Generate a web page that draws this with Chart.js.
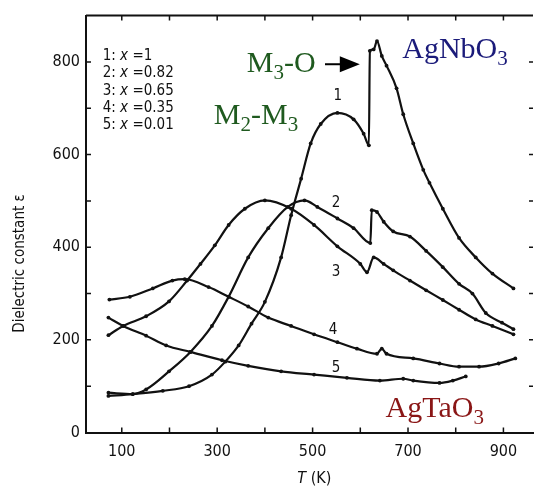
<!DOCTYPE html>
<html>
<head>
<meta charset="utf-8">
<script src="https://cdn.jsdelivr.net/npm/chart.js@4.4.0/dist/chart.umd.min.js"></script>
<style>
  html, body { margin: 0; padding: 0; background: #fff; overflow: hidden; }
  #wrap { width: 537px; height: 493px; position: relative; }
</style>
</head>
<body>
<div id="wrap"><canvas id="chartCanvas"></canvas></div>
<script>
// tick labels
const xTickValues = [100, 300, 500, 700, 900];
const yTickValues = [0, 200, 400, 600, 800];

// curve 1: x = 1 (AgNbO3)
const temp1 = [72, 123, 186, 241, 289, 317, 345, 372, 400, 434, 455, 476, 496, 517, 552, 586, 607, 618, 620, 628, 635, 645, 655, 676, 690, 711, 732, 745, 773, 807, 842, 877, 921];
const eps1 = [79, 83, 90, 100, 125, 153, 188, 235, 282, 378, 469, 548, 624, 666, 690, 676, 645, 620, 824, 827, 845, 813, 792, 743, 687, 624, 567, 539, 483, 420, 378, 343, 311];

// curve 2: x = 0.82
const temp2 = [72, 123, 151, 199, 244, 289, 324, 365, 407, 448, 483, 510, 552, 586, 621, 624, 635, 649, 669, 704, 738, 773, 807, 835, 863, 897, 921];
const eps2 = [86, 83, 93, 132, 174, 230, 293, 378, 441, 487, 501, 487, 462, 441, 409, 480, 476, 455, 434, 423, 392, 357, 321, 300, 258, 237, 223];

// curve 3: x = 0.65
const temp3 = [72, 103, 151, 199, 237, 265, 295, 324, 358, 400, 455, 503, 552, 600, 614, 628, 649, 669, 704, 738, 773, 807, 842, 877, 921];
const eps3 = [210, 230, 251, 283, 328, 364, 404, 448, 483, 501, 483, 448, 402, 364, 346, 378, 364, 350, 328, 307, 286, 265, 244, 230, 212];

// curve 4: x = 0.35
const temp4 = [74, 117, 165, 206, 232, 282, 324, 365, 407, 455, 503, 552, 593, 635, 645, 655, 711, 766, 807, 849, 890, 925];
const eps4 = [287, 293, 311, 328, 331, 314, 293, 272, 248, 230, 212, 195, 181, 170, 181, 170, 160, 149, 142, 142, 149, 160];

// curve 5: x = 0.01 (AgTaO3 side)
const temp5 = [72, 103, 151, 193, 244, 310, 365, 434, 503, 572, 641, 690, 711, 766, 794, 821];
const eps5 = [248, 230, 209, 188, 174, 156, 144, 132, 125, 118, 112, 116, 112, 107, 112, 121];

// curve numbers and where they sit (T, eps)
const curveNames = ["1", "2", "3", "4", "5"];
const nameT = [553, 549, 549, 543, 549];
const nameEps = [726, 496, 347, 222, 140];

// composition legend
const compValues = ["1", "0.82", "0.65", "0.35", "0.01"];

const curves = [
  [temp1, eps1], [temp2, eps2], [temp3, eps3], [temp4, eps4], [temp5, eps5]
];

const smallFont = "15px 'DejaVu Sans Condensed', 'DejaVu Sans', sans-serif";
const smallItalic = "italic 15px 'DejaVu Sans Condensed', 'DejaVu Sans', sans-serif";
const serifBig = "30px 'Liberation Serif', 'Times New Roman', serif";
const serifSub = "21px 'Liberation Serif', 'Times New Roman', serif";

function drawParts(ctx, parts, px, py) {
  let cx = px;
  parts.forEach((p) => {
    ctx.font = p.font;
    ctx.fillText(p.text, cx, py + (p.dy || 0));
    cx += ctx.measureText(p.text).width;
  });
}

function chemParts(main, sub, rest) {
  const parts = [{ text: main, font: serifBig }, { text: sub, font: serifSub, dy: 7 }];
  if (rest) parts.push({ text: rest, font: serifBig });
  return parts;
}

const decor = {
  id: "decor",
  afterDraw(chart) {
    const { ctx, chartArea, scales } = chart;
    const xs = scales.x, ys = scales.y;
    ctx.save();
    ctx.strokeStyle = "#111";
    ctx.fillStyle = "#111";

    // top frame line
    ctx.lineWidth = 2;
    ctx.beginPath();
    ctx.moveTo(chartArea.left, chartArea.top);
    ctx.lineTo(chartArea.right, chartArea.top);
    ctx.stroke();

    // inward ticks every 100
    ctx.lineWidth = 1.5;
    for (let v = 100; v <= 900; v += 100) {
      const px = xs.getPixelForValue(v);
      ctx.beginPath();
      ctx.moveTo(px, chartArea.bottom);
      ctx.lineTo(px, chartArea.bottom - 5);
      ctx.moveTo(px, chartArea.top);
      ctx.lineTo(px, chartArea.top + 5);
      ctx.stroke();
    }
    for (let v = 100; v <= 800; v += 100) {
      const py = ys.getPixelForValue(v);
      ctx.beginPath();
      ctx.moveTo(chartArea.left, py);
      ctx.lineTo(chartArea.left + 5, py);
      ctx.moveTo(chartArea.right - 4, py);
      ctx.lineTo(chartArea.right, py);
      ctx.stroke();
    }

    // curve numbers
    ctx.font = smallFont;
    ctx.textAlign = "center";
    ctx.textBaseline = "middle";
    curveNames.forEach((n, i) => {
      ctx.fillText(n, xs.getPixelForValue(nameT[i]), ys.getPixelForValue(nameEps[i]));
    });

    // composition legend
    ctx.textAlign = "left";
    const legLeft = xs.getPixelForValue(60);
    compValues.forEach((c, i) => {
      const py = ys.getPixelForValue(813 - i * 37.5);
      drawParts(ctx, [
        { text: (i + 1) + ": ", font: smallFont },
        { text: "x", font: smallItalic },
        { text: " =" + c, font: smallFont }
      ], legLeft, py);
    });

    // axis titles
    ctx.font = "15px 'DejaVu Sans Condensed', 'DejaVu Sans', sans-serif";
    ctx.save();
    ctx.translate(20, ys.getPixelForValue(365));
    ctx.rotate(-Math.PI / 2);
    ctx.textAlign = "center";
    ctx.fillText("Dielectric constant ε", 0, 0);
    ctx.restore();
    drawParts(ctx, [
      { text: "T", font: "italic 16px 'DejaVu Sans Condensed', 'DejaVu Sans', sans-serif" },
      { text: " (K)", font: "16px 'DejaVu Sans Condensed', 'DejaVu Sans', sans-serif" }
    ], xs.getPixelForValue(468), 479);

    // phase / compound labels
    ctx.textBaseline = "alphabetic";
    ctx.fillStyle = "#1f5a1f";
    drawParts(ctx, chemParts("M", "3", "-O"), xs.getPixelForValue(362), ys.getPixelForValue(779));
    drawParts(ctx, [
      { text: "M", font: serifBig }, { text: "2", font: serifSub, dy: 7 },
      { text: "-M", font: serifBig }, { text: "3", font: serifSub, dy: 7 }
    ], xs.getPixelForValue(293), ys.getPixelForValue(665));
    ctx.fillStyle = "#1b1b7a";
    drawParts(ctx, chemParts("AgNbO", "3"), xs.getPixelForValue(688), ys.getPixelForValue(808));
    ctx.fillStyle = "#8a1616";
    drawParts(ctx, chemParts("AgTaO", "3"), xs.getPixelForValue(653), ys.getPixelForValue(33));

    // arrow to the M3-O jump
    const ay = ys.getPixelForValue(795);
    const ax0 = xs.getPixelForValue(526), ax1 = xs.getPixelForValue(599);
    ctx.strokeStyle = "#000";
    ctx.fillStyle = "#000";
    ctx.lineWidth = 2;
    ctx.beginPath();
    ctx.moveTo(ax0, ay);
    ctx.lineTo(ax1 - 18, ay);
    ctx.stroke();
    ctx.beginPath();
    ctx.moveTo(ax1, ay);
    ctx.lineTo(ax1 - 20, ay - 8);
    ctx.lineTo(ax1 - 20, ay + 8);
    ctx.closePath();
    ctx.fill();

    ctx.restore();
  }
};

const ctx = document.getElementById("chartCanvas").getContext("2d");
new Chart(ctx, {
  type: "line",
  data: {
    datasets: curves.map(([t, e], i) => ({
      label: curveNames[i],
      data: t.map((v, k) => ({ x: v, y: e[k] })),
      borderColor: "#111",
      backgroundColor: "#111",
      borderWidth: 2.2,
      pointRadius: 1.9,
      pointBorderWidth: 0,
      pointBackgroundColor: "#111",
      cubicInterpolationMode: "monotone",
      fill: false
    }))
  },
  options: {
    responsive: true,
    maintainAspectRatio: false,
    animation: false,
    events: [],
    layout: { padding: { top: 5.5, right: 0, left: 0, bottom: 0 } },
    plugins: { legend: { display: false }, tooltip: { enabled: false } },
    scales: {
      x: {
        type: "linear",
        min: 25,
        max: 962,
        afterBuildTicks: (scale) => { scale.ticks = xTickValues.map((v) => ({ value: v })); },
        afterFit: (scale) => { scale.height = 60.5; },
        grid: { display: false, drawTicks: false },
        border: { display: true, color: "#111", width: 2 },
        ticks: { color: "#111", font: { family: "'DejaVu Sans Condensed', 'DejaVu Sans'", size: 16 }, padding: 10, maxRotation: 0 }
      },
      y: {
        type: "linear",
        min: 0,
        max: 900,
        afterBuildTicks: (scale) => { scale.ticks = yTickValues.map((v) => ({ value: v })); },
        afterFit: (scale) => { scale.width = 86; },
        grid: { display: false, drawTicks: false },
        border: { display: true, color: "#111", width: 2 },
        ticks: { color: "#111", font: { family: "'DejaVu Sans Condensed', 'DejaVu Sans'", size: 16 }, padding: 6 }
      }
    }
  },
  plugins: [decor]
});
</script>
</body>
</html>
